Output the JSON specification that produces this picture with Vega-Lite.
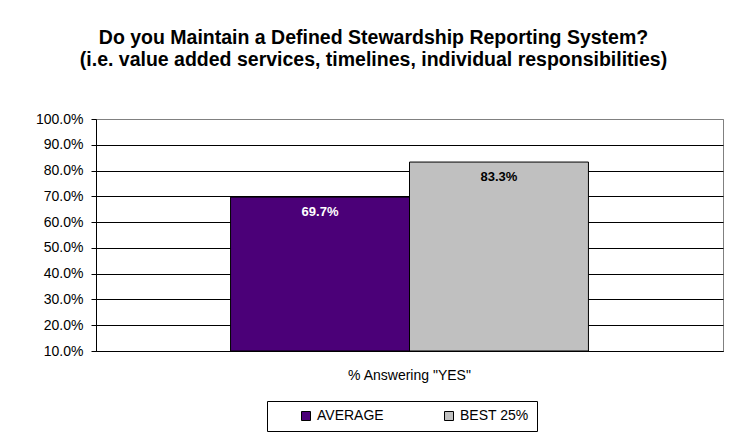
{
  "$schema": "https://vega.github.io/schema/vega-lite/v6.json",
  "width": 627,
  "height": 232,
  "autosize": {"type": "none"},
  "padding": {"left": 96, "top": 119, "right": 10, "bottom": 88},
  "background": "white",
  "title": {
    "text": ["Do you Maintain a Defined Stewardship Reporting System?", "(i.e. value added services, timelines, individual responsibilities)"],
    "font": "Liberation Sans",
    "fontSize": 19.5,
    "fontWeight": "bold",
    "color": "#000000",
    "anchor": "middle",
    "frame": "group",
    "dx": -36,
    "offset": 42,
    "lineHeight": 22
  },
  "data": {
    "values": [
      {"category": "% Answering \"YES\"", "series": "AVERAGE", "value": 0.697},
      {"category": "% Answering \"YES\"", "series": "BEST 25%", "value": 0.833}
    ]
  },
  "encoding": {
    "x": {
      "field": "category",
      "type": "nominal",
      "scale": {"paddingOuter": 0.376, "paddingInner": 0},
      "axis": {
        "title": null,
        "labelAngle": 0,
        "ticks": false,
        "labelPadding": 17,
        "labelFont": "Liberation Sans",
        "labelFontSize": 14,
        "labelColor": "#000000",
        "domainColor": "#000000",
        "labelLimit": 0
      }
    },
    "xOffset": {
      "field": "series",
      "type": "nominal",
      "scale": {"domain": ["AVERAGE", "BEST 25%"], "paddingInner": 0, "paddingOuter": 0}
    },
    "y": {
      "field": "value",
      "type": "quantitative",
      "scale": {"domain": [0.1, 1.0], "nice": false, "zero": false, "clamp": true},
      "axis": {
        "title": null,
        "values": [0.1, 0.2, 0.3, 0.4, 0.5, 0.6, 0.7, 0.8, 0.9, 1.0],
        "format": ".1%",
        "labelFont": "Liberation Sans",
        "labelFontSize": 14,
        "labelColor": "#000000",
        "tickSize": 5,
        "tickColor": "#000000",
        "labelPadding": 8,
        "domainColor": "#000000",
        "grid": true,
        "gridColor": {"condition": {"test": "datum.value >= 0.999", "value": "#808080"}, "value": "#000000"},
        "gridOpacity": 1
      }
    }
  },
  "layer": [
    {
      "mark": {"type": "bar", "stroke": "#000000", "strokeWidth": 1},
      "encoding": {
        "color": {
          "field": "series",
          "type": "nominal",
          "scale": {"domain": ["AVERAGE", "BEST 25%"], "range": ["#4B0078", "#C0C0C0"]},
          "legend": {
            "orient": "none",
            "legendX": 171,
            "legendY": 282,
            "direction": "horizontal",
            "columns": 2,
            "title": null,
            "symbolType": "square",
            "symbolSize": 81,
            "symbolStrokeColor": "#000000",
            "symbolStrokeWidth": 1,
            "symbolOpacity": 1,
            "symbolOffset": 24,
            "labelOffset": 4,
            "labelFont": "Liberation Sans",
            "labelFontSize": 14,
            "labelColor": "#000000",
            "columnPadding": 34,
            "padding": 8,
            "strokeColor": "#000000",
            "fillColor": "#ffffff"
          }
        }
      }
    },
    {
      "mark": {"type": "text", "font": "Liberation Sans", "fontSize": 13, "fontWeight": "bold", "dy": 19, "baseline": "alphabetic"},
      "encoding": {
        "text": {"field": "value", "type": "quantitative", "format": ".1%"},
        "color": {"condition": {"test": "datum.series === 'AVERAGE'", "value": "#ffffff"}, "value": "#000000"}
      }
    }
  ],
  "config": {
    "view": {"stroke": "#808080", "strokeWidth": 1}
  }
}
